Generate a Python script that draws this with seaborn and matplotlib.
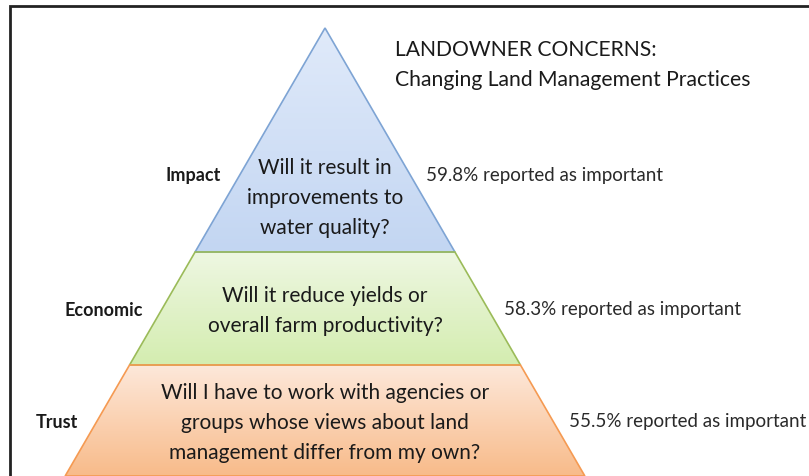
import numpy as np
import matplotlib.pyplot as plt
import seaborn as sns
from matplotlib.patches import Polygon
from matplotlib.colors import LinearSegmentedColormap

# data
tiers = ["Impact", "Economic", "Trust"]
questions = [
    "Will it result in\nimprovements to\nwater quality?",
    "Will it reduce yields or\noverall farm productivity?",
    "Will I have to work with agencies or\ngroups whose views about land\nmanagement differ from my own?",
]
pct = [59.8, 58.3, 55.5]
title = "LANDOWNER CONCERNS:\nChanging Land Management Practices"

# layout (pixel space)
W, H = 809, 476
apex_x, apex_y = 325, 28
slope = 0.58
bounds = [28, 252, 365, 476]
label_y = [176, 310, 422]
text_y = [198, 311, 423]
fills = [("#e0eafa", "#c3d6f2"), ("#eef7e2", "#d4edb0"), ("#fde8da", "#f8bb8a")]
edges = ["#7ea4d4", "#9bbb59", "#f59a52"]

sns.set_theme(style="white")
plt.rcParams['font.family'] = ['Lato', 'DejaVu Sans']

fig = plt.figure(figsize=(W / 100, H / 100), dpi=100)
ax = fig.add_axes([0, 0, 1, 1])
ax.set_xlim(0, W)
ax.set_ylim(H, 0)
ax.axis("off")

def half(y):
    return (y - apex_y) * slope

for i, name in enumerate(tiers):
    y0, y1 = bounds[i], bounds[i + 1]
    pts = [(apex_x - half(y0), y0), (apex_x + half(y0), y0),
           (apex_x + half(y1), y1), (apex_x - half(y1), y1)]
    poly = Polygon(pts, closed=True, facecolor="none", edgecolor=edges[i], lw=1.2, zorder=3)
    ax.add_patch(poly)
    cmap = LinearSegmentedColormap.from_list("g%d" % i, list(fills[i]))
    grad = np.linspace(0, 1, 100).reshape(-1, 1)
    im = ax.imshow(grad, cmap=cmap, aspect="auto", zorder=2,
                   extent=(apex_x - half(y1), apex_x + half(y1), y1, y0))
    im.set_clip_path(poly)

    ax.text(apex_x, text_y[i], questions[i], ha="center", va="center",
            fontsize=15, color="#1a1a1a", linespacing=1.62, zorder=4)
    ly = label_y[i]
    ax.text(apex_x - half(ly) - 18, ly, name, ha="right", va="center",
            fontsize=13, fontweight="bold", color="#1a1a1a")
    ax.text(apex_x + half(ly) + 15, ly, f"{pct[i]}% reported as important",
            ha="left", va="center", fontsize=13.5, color="#2a2a2a")

ax.text(395, 65, title, ha="left", va="center", fontsize=15.2,
        color="#1a1a1a", linespacing=1.58)

# frame
ax.plot([10, 10, W], [H, 6, 6], color="#222222", lw=2, solid_joinstyle="miter", zorder=5)

fig.savefig("out.png", dpi=100)
